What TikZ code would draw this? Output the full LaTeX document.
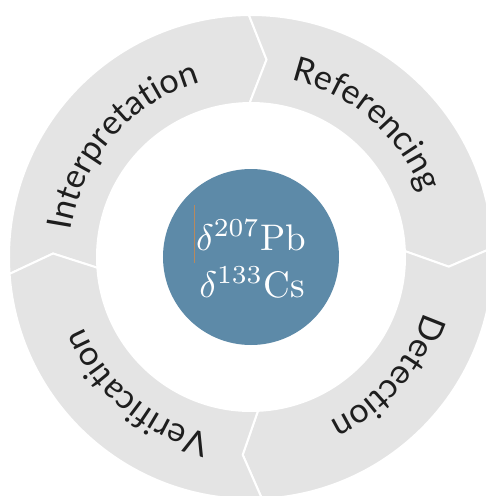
\documentclass[tikz,border=0pt]{standalone}
\usepackage{fontspec}
\newfontfamily\labelfont{Lato}
\usetikzlibrary{decorations.text}

\definecolor{ringgray}{HTML}{E4E4E4}
\definecolor{coreblue}{HTML}{5D8AA8}
\definecolor{labeldark}{HTML}{1E1E1E}
\definecolor{caretbrown}{HTML}{B8895E}

\tikzset{
  segment/.style={fill=ringgray, draw=white, line width=2pt, line join=miter},
  core/.style={circle, fill=coreblue, minimum size=176pt, inner sep=0pt},
  coretext/.style={text=white, inner sep=0pt},
  arclabel/.style={decorate, decoration={text along path, text align=center,
      text={|\labelfont\fontsize{34}{34}\selectfont\color{labeldark}|#1}}}
}

% ring radii and chevron geometry
\def\rin{154}
\def\rout{242}
\def\rmid{198}
\def\rtext{182}
\def\notch{5}

% one arrow segment running clockwise from angle #1 to angle #2
\newcommand\ringsegment[2]{%
  \path[segment] (#1:\rout) arc[start angle=#1, end angle=#2, radius=\rout]
    -- ({#2-\notch}:\rmid) -- (#2:\rin)
    arc[start angle=#2, end angle=#1, radius=\rin]
    -- ({#1-\notch}:\rmid) -- cycle;}

% label following the ring clockwise, centred on angle #1
\newcommand\ringlabel[2]{%
  \path[arclabel={#2}] ({#1+50}:\rtext) arc[start angle={#1+50}, end angle={#1-50}, radius=\rtext];}

\begin{document}
\begin{tikzpicture}[x=1pt, y=1pt]
  \useasboundingbox (-251,-239) rectangle (235,257);
  \clip (-251,-239) rectangle (235,257);

  % four arrow segments of the cycle
  \ringsegment{184}{90.5}
  \ringsegment{90.5}{2.2}
  \ringsegment{2.2}{-87.4}
  \ringsegment{-87.4}{-176}

  \ringlabel{139}{Interpretation}
  \ringlabel{49}{Referencing}
  \ringlabel{-41}{Detection}
  \ringlabel{-130}{Verification}

  % central disc
  \node[core] (centre) at (0,0) {};
  \node[coretext, anchor=base] (pb) at (0,7) {\scalebox{3.7}{$\delta^{207}$Pb}};
  \node[coretext, anchor=base] (cs) at (1,-40) {\scalebox{3.7}{$\delta^{133}$Cs}};
  \coordinate (caretTop) at (-57,52);
  \coordinate (caretBottom) at (-57,-6);
  \draw[caretbrown, line width=0.7pt] (caretTop) -- (caretBottom);
\end{tikzpicture}
\end{document}
